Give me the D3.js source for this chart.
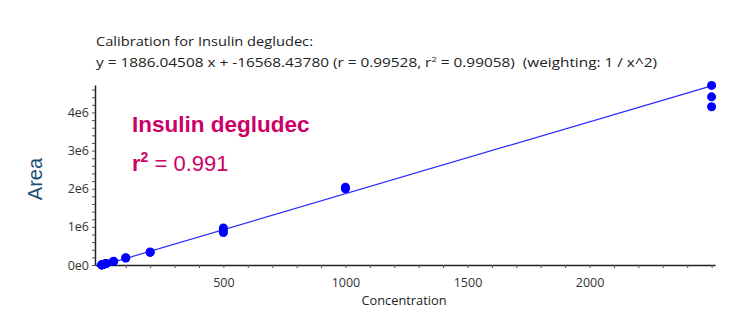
<!DOCTYPE html>
<meta charset="utf-8">
<script src="https://cdn.jsdelivr.net/npm/d3@7"></script>
<style>
  body { margin: 0; background: #fff; }
  .tick text { font-family: "Open Sans", sans-serif; font-size: 12.5px; fill: #333; }
</style>
<body>
<script>

var width = 750
var height = 313

// calibration levels and measured areas (replicates)
var conc = [1, 1, 2, 2, 5, 5, 10, 10, 20, 20, 50, 50, 100, 100, 200, 200, 500, 500, 500, 1000, 1000, 2500, 2500, 2500]
var area = [2000, 2200, 3800, 4000, 9500, 9800, 19000, 20000, 38000, 40000, 95000, 100000, 185000, 190000, 330000, 340000, 850000, 920000, 970000, 2000000, 2040000, 4150000, 4410000, 4710000]

var slope = 1886.04508
var intercept = -16568.43780
var fitRange = [1, 2500]

var xTicks = [500, 1000, 1500, 2000]
var yTicks = [0, 1e6, 2e6, 3e6, 4e6]
var yTickLabels = ["0e0", "1e6", "2e6", "3e6", "4e6"]

var x = d3.scaleLinear().domain([-26, 2514]).range([95, 715])
var y = d3.scaleLinear().domain([0, 4.72e6]).range([265, 85])

var svg = d3.select("body").append("svg")
            .attr("width", width)
            .attr("height", height)

svg.append("text")
   .attr("x", 96).attr("y", 46)
   .attr("textLength", 217).attr("lengthAdjust", "spacingAndGlyphs")
   .style("font-family", "Open Sans, sans-serif")
   .style("font-size", "13px")
   .attr("fill", "#222")
   .text("Calibration for Insulin degludec:")

var eq = svg.append("text")
   .attr("x", 96).attr("y", 67)
   .attr("textLength", 561).attr("lengthAdjust", "spacingAndGlyphs")
   .style("font-family", "Open Sans, sans-serif")
   .style("font-size", "13px")
   .style("white-space", "pre")
   .attr("fill", "#222")
eq.append("tspan").text("y = 1886.04508 x + -16568.43780 (r = 0.99528, r")
eq.append("tspan").attr("dy", -5).style("font-size", "8px").text("2")
eq.append("tspan").attr("dy", 5).text(" = 0.99058)  (weighting: 1 / x^2)")

// axes
svg.append("g")
   .attr("transform", "translate(0,265)")
   .call(d3.axisBottom(x).tickValues(d3.range(0, 2501, 100)).tickSize(3).tickFormat(function(d) { return xTicks.indexOf(d) >= 0 ? d : "" }).tickSizeOuter(0))
   .call(function(g) { g.selectAll(".tick text").attr("dy", "1.3em") })

svg.append("g")
   .attr("transform", "translate(95,0)")
   .call(d3.axisLeft(y).tickValues(d3.range(0, 4.7e6, 2e5)).tickSize(3).tickFormat(function(d) {
       var i = yTicks.indexOf(Math.round(d)); return i >= 0 ? yTickLabels[i] : "" }).tickSizeOuter(0))

svg.selectAll(".domain").attr("stroke", "#222").attr("stroke-width", 1.5)
svg.selectAll(".tick line").attr("stroke", "#555")

svg.append("text")
   .attr("x", 404).attr("y", 305)
   .attr("text-anchor", "middle")
   .style("font-family", "Open Sans, sans-serif")
   .style("font-size", "12.8px")
   .attr("fill", "#222")
   .text("Concentration")

svg.append("text")
   .attr("transform", "translate(42,179) rotate(-90)")
   .attr("text-anchor", "middle")
   .style("font-family", "Liberation Sans, Arial, sans-serif")
   .style("font-size", "20px")
   .attr("fill", "#1f4e6e")
   .text("Area")

// fit line
svg.append("line")
   .attr("x1", x(fitRange[0])).attr("y1", y(slope * fitRange[0] + intercept))
   .attr("x2", x(fitRange[1])).attr("y2", y(slope * fitRange[1] + intercept))
   .attr("stroke", "#2a2aff").attr("stroke-width", 1.2)

svg.selectAll("circle.pt").data(conc).enter().append("circle")
   .attr("class", "pt")
   .attr("cx", function(d) { return x(d) })
   .attr("cy", function(d, i) { return y(area[i]) })
   .attr("r", 4.5)
   .attr("fill", "#0000ff")

// annotation
svg.append("text")
   .attr("x", 132).attr("y", 132)
   .style("font-family", "Liberation Sans, Arial, sans-serif")
   .style("font-size", "22.5px").style("font-weight", "bold")
   .attr("fill", "#cc0066")
   .text("Insulin degludec")

var r2 = svg.append("text")
   .attr("x", 132).attr("y", 171)
   .style("font-family", "Liberation Sans, Arial, sans-serif")
   .style("font-size", "22px")
   .attr("fill", "#cc0066")
r2.append("tspan").style("font-weight", "bold").text("r")
r2.append("tspan").attr("dy", -9).style("font-size", "14px").style("font-weight", "bold").text("2")
r2.append("tspan").attr("dy", 9).text(" = 0.991")

</script>
</body>
